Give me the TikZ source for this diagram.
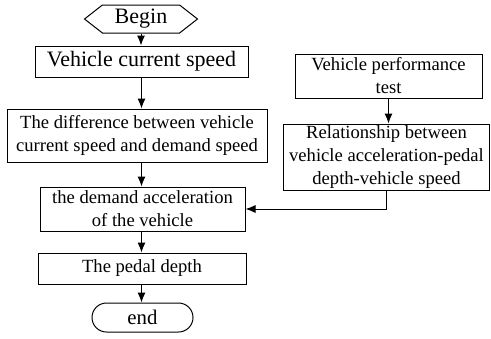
\documentclass[tikz,border=0pt]{standalone}
\usepackage{fontspec}
\setmainfont{Liberation Serif}
\usetikzlibrary{arrows.meta, shapes.symbols}

\begin{document}
\begin{tikzpicture}
    [
      x=0.5pt, y=-0.5pt,
      box/.style={draw, line width=0.5pt, align=center, inner sep=0pt,
        font=\fontsize{9.3}{11.5}\selectfont},
      bigbox/.style={box, font=\fontsize{11}{13}\selectfont},
      flow/.style={line width=0.5pt, ->, >={Latex[length=5pt,width=4pt]}}
    ]
    \useasboundingbox (0,0) rectangle (491,338);
    % main column
    \node [bigbox, signal, signal to=west and east, signal pointer angle=76,
      minimum width=56.5pt, minimum height=14pt] (begin) at (141,19) {Begin};
    \node [bigbox, minimum width=106.5pt, minimum height=15.5pt] (speed) at (141.5,61.5)
      {Vehicle current speed};
    \node [box, minimum width=130pt, minimum height=26.5pt] (diff) at (137,135.5)
      {The difference between vehicle\\current speed and demand speed};
    \node [box, minimum width=102.5pt, minimum height=22pt] (accel) at (142.5,209)
      {the demand acceleration\\of the vehicle};
    \node [box, minimum width=104pt, minimum height=15.5pt] (pedal) at (142,268.5)
      {The pedal depth};
    \node [box, rounded corners=7.25pt, minimum width=50.5pt, minimum height=14.5pt,
      font=\fontsize{10.4}{12}\selectfont] (end) at (142.5,317.5) {end};
    % side column
    \node [box, minimum width=93.5pt, minimum height=22pt] (perf) at (388.5,76)
      {Vehicle performance\\test};
    \node [box, minimum width=103pt, minimum height=33pt] (rel) at (386.5,157)
      {Relationship between\\vehicle acceleration-pedal\\depth-vehicle speed};
    % connectors
    \draw [flow] (begin.south) -- (begin.south |- speed.north);
    \draw [flow] (speed.south) -- (speed.south |- diff.north);
    \draw [flow] (speed.south |- diff.south) -- (speed.south |- accel.north);
    \draw [flow] (accel.south -| speed.south) -- (speed.south |- pedal.north);
    \draw [flow] (pedal.south -| speed.south) -- (speed.south |- end.north);
    \draw [flow] (perf.south) -- (perf.south |- rel.north);
    \draw [flow] (rel.south) |- (accel.east);
\end{tikzpicture}
\end{document}
